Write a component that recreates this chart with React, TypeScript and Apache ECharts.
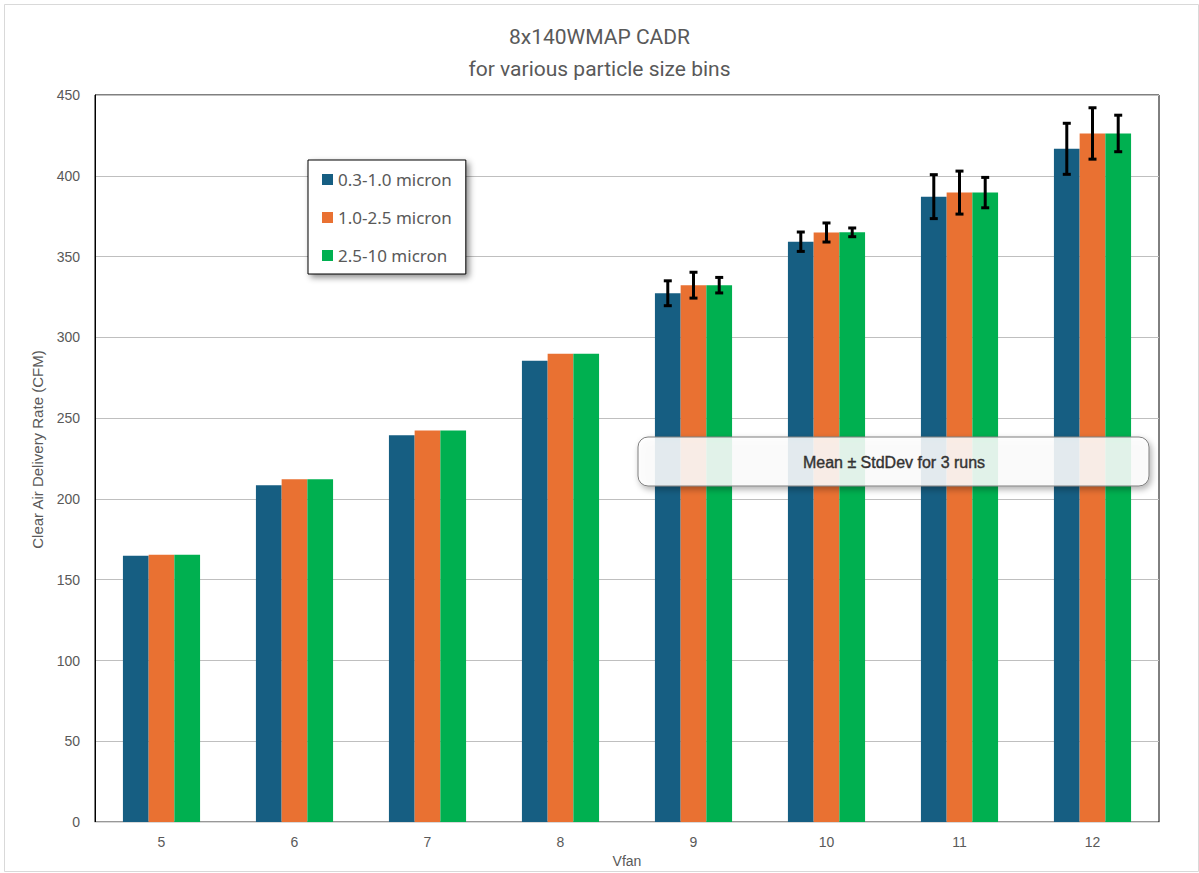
import React, { useEffect, useRef } from "react";
import * as echarts from "echarts";

const categories = ["5", "6", "7", "8", "9", "10", "11", "12"];
const seriesNames = ["0.3-1.0 micron", "1.0-2.5 micron", "2.5-10 micron"];
const colors = ["#165E82", "#E97132", "#00B050"];
const meanSmall = [164.8, 208.5, 239.4, 285.6, 327.3, 359.2, 387.1, 416.7];
const meanMid = [165.4, 212.2, 242.4, 289.9, 332.3, 364.9, 389.6, 426.2];
const meanLarge = [165.4, 212.2, 242.4, 289.9, 332.3, 365.0, 389.6, 426.2];
// std dev (null = no error bar shown)
const sdSmall = [null, null, null, null, 7.7, 6.0, 13.6, 15.8];
const sdMid = [null, null, null, null, 8.0, 5.9, 13.3, 15.9];
const sdLarge = [null, null, null, null, 4.8, 2.7, 9.4, 11.3];
const yTicks = { min: 0, max: 450, interval: 50 };

const means = [meanSmall, meanMid, meanLarge];
const sds = [sdSmall, sdMid, sdLarge];
const CAT_GAP = 0.42;

export default function App() {
  const ref = useRef<HTMLDivElement>(null);
  useEffect(() => {
    if (!ref.current) return;
    const chart = echarts.init(ref.current, null, { renderer: "svg" });
    const barSeries = seriesNames.map((name, i) => ({
      name,
      type: "bar",
      data: means[i],
      barGap: "0%",
      barCategoryGap: "42%",
      itemStyle: { color: colors[i] },
      z: 2,
    }));
    const errSeries = seriesNames.map((name, i) => ({
      name: name + " err",
      type: "custom",
      z: 5,
      silent: true,
      data: categories
        .map((_, k) => (sds[i][k] == null ? null : [k, means[i][k], sds[i][k]]))
        .filter((d) => d !== null),
      encode: { x: 0, y: 1 },
      renderItem: (params: any, api: any) => {
        const k = api.value(0);
        const m = api.value(1);
        const s = api.value(2);
        const band = api.size([1, 0])[0];
        const bw = (band * (1 - CAT_GAP)) / 3;
        const center = api.coord([k, m]);
        const x = center[0] + (i - 1) * bw;
        const top = api.coord([k, m + s])[1];
        const bot = api.coord([k, m - s])[1];
        const st = { stroke: "#000", lineWidth: 3 };
        return {
          type: "group",
          children: [
            { type: "line", shape: { x1: x, y1: top, x2: x, y2: bot }, style: st },
            { type: "line", shape: { x1: x - 4, y1: top, x2: x + 4, y2: top }, style: st },
            { type: "line", shape: { x1: x - 4, y1: bot, x2: x + 4, y2: bot }, style: st },
          ],
        };
      },
    }));
    chart.setOption({
      animation: false,
      backgroundColor: "#ffffff",
      title: {
        text: "8x140WMAP CADR\nfor various particle size bins",
        left: "center",
        top: 16,
        textStyle: {
          fontFamily: "'Liberation Sans Narrow', 'Roboto', sans-serif",
          fontWeight: "normal",
          fontSize: 21,
          lineHeight: 32,
          color: "#595959",
        },
      },
      legend: {
        data: seriesNames,
        orient: "vertical",
        left: 308,
        top: 160,
        padding: [11, 14, 10, 14],
        itemGap: 21,
        itemWidth: 11,
        itemHeight: 11,
        icon: "rect",
        backgroundColor: "#ffffff",
        borderColor: "#000000",
        borderWidth: 1,
        shadowColor: "rgba(0,0,0,0.45)",
        shadowBlur: 6,
        shadowOffsetX: 3,
        shadowOffsetY: 3,
        textStyle: {
          fontFamily: "'Noto Sans', Lato, sans-serif",
          fontSize: 17,
          lineHeight: 17,
          color: "#595959",
          padding: [0, 0, 0, 0],
        },
      },
      grid: {
        left: 95,
        right: 40,
        top: 95,
        bottom: 48,
        show: true,
        borderColor: "#000000",
        borderWidth: 1,
        containLabel: false,
      },
      xAxis: {
        type: "category",
        data: categories,
        name: "Vfan",
        nameLocation: "middle",
        nameGap: 24,
        nameTextStyle: { fontFamily: "'Liberation Sans', Arial, sans-serif", fontSize: 14, color: "#595959" },
        axisLine: { lineStyle: { color: "#d9d9d9", width: 1 } },
        axisTick: { show: false },
        axisLabel: { fontFamily: "'Liberation Sans', Arial, sans-serif", fontSize: 14, color: "#595959", margin: 13 },
      },
      yAxis: {
        type: "value",
        min: yTicks.min,
        max: yTicks.max,
        interval: yTicks.interval,
        name: "Clear Air Delivery Rate (CFM)",
        nameLocation: "middle",
        nameGap: 50,
        nameTextStyle: {
          fontFamily: "'Liberation Sans', Arial, sans-serif",
          fontSize: 15,
          color: "#595959",
          padding: [0, 0, 0, 18],
        },
        axisLine: { show: true, lineStyle: { color: "#000000", width: 1 } },
        axisTick: { show: false },
        axisLabel: { fontFamily: "'Liberation Sans', Arial, sans-serif", fontSize: 14, color: "#595959", margin: 15 },
        splitLine: { lineStyle: { color: "#bfbfbf", width: 1 } },
      },
      graphic: [
        {
          type: "rect",
          left: 2,
          top: 2,
          shape: { width: 1194, height: 867 },
          style: { fill: "none", stroke: "#d9d9d9", lineWidth: 1 },
          z: -1,
          silent: true,
        },
        {
          type: "group",
          z: 100,
          children: [
            {
              type: "rect",
              x: 638,
              y: 437,
              shape: { width: 511, height: 49, r: 10 },
              style: {
                fill: "rgba(255,255,255,0.86)",
                stroke: "#7f7f7f",
                lineWidth: 1,
                shadowColor: "rgba(0,0,0,0.35)",
                shadowBlur: 6,
                shadowOffsetX: 2,
                shadowOffsetY: 3,
              },
              z: 100,
            },
            {
              type: "text",
              x: 894,
              y: 462,
              style: {
                text: "Mean ± StdDev for 3 runs",
                fontFamily: "'Liberation Sans', Arial, sans-serif",
                fontWeight: "normal",
                fontSize: 16,
                fill: "#333333",
                stroke: "#333333",
                lineWidth: 0.4,
                align: "center",
                verticalAlign: "middle",
              },
              z: 101,
            },
          ],
        },
      ],
      series: [...barSeries, ...errSeries],
    });
    return () => chart.dispose();
  }, []);
  return (
    <div
      ref={ref}
      style={{ position: "absolute", left: 0, top: 0, width: 1199, height: 873 }}
    />
  );
}
